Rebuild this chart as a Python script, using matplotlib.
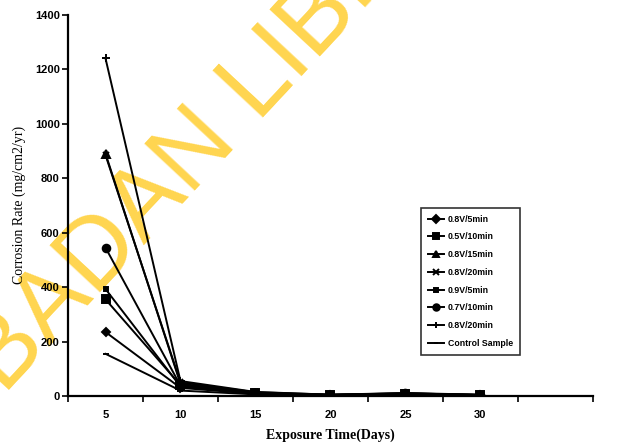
import matplotlib
matplotlib.use("Agg")
import matplotlib.pyplot as plt
import numpy as np

# categorie (giorni) e serie
days = ['5', '10', '15', '20', '25', '30', '']
labels = ['0.8V/5min', '0.5V/10min', '0.8V/15min', '0.8V/20min',
          '0.9V/5min', '0.7V/10min', '0.8V/20min', 'Control Sample']
v_08_5 = [235, 30, 8, 3, 6, 3]
v_05_10 = [355, 40, 10, 4, 8, 4]
v_08_15 = [890, 45, 12, 4, 9, 4]
v_08_20a = [885, 50, 14, 5, 10, 4]
v_09_5 = [393, 35, 9, 4, 7, 3]
v_07_10 = [545, 38, 11, 4, 10, 4]
v_08_20b = [1240, 55, 15, 5, 11, 5]
v_ctrl = [155, 20, 6, 3, 5, 3]

series = [v_08_5, v_05_10, v_08_15, v_08_20a, v_09_5, v_07_10, v_08_20b, v_ctrl]
markers = ['D', 's', '^', 'x', 's', 'o', '+', '_']
msizes = [4.5, 5.5, 5.5, 4.5, 3.5, 5.5, 5.5, 4]

fig = plt.figure(figsize=(6.24, 4.48), dpi=100)
ax = fig.add_axes([0.109, 0.116, 0.841, 0.851])

x = np.arange(len(v_08_5))
for vals, lab, m, ms in zip(series, labels, markers, msizes):
    ax.plot(x, vals, color='black', lw=1.4, marker=m, ms=ms, mew=1.4, label=lab)

ax.set_xlim(-0.5, len(days) - 0.5)
ax.set_ylim(0, 1400)
ax.set_xticks(np.arange(len(days)))
ax.set_xticklabels(days)
ax.set_xticks(np.arange(len(days) + 1) - 0.5, minor=True)
ax.tick_params(axis='x', which='major', length=0, pad=10)
ax.tick_params(axis='x', which='minor', length=4, width=1.2, direction='out')
ax.set_yticks(np.arange(0, 1401, 200))
ax.tick_params(axis='y', length=4, width=1.2, pad=2)
for t in ax.get_xticklabels() + ax.get_yticklabels():
    t.set_fontfamily('Liberation Sans')
    t.set_fontweight('bold')
    t.set_fontsize(8)

ax.spines['top'].set_visible(False)
ax.spines['right'].set_visible(False)
ax.spines['left'].set_linewidth(1.6)
ax.spines['bottom'].set_linewidth(1.6)

ax.set_xlabel('Exposure Time(Days)', fontfamily='Liberation Serif',
              fontweight='bold', fontsize=10, labelpad=6)
ax.set_ylabel('Corrosion Rate (mg/cm2/yr)', fontfamily='Liberation Serif',
              fontsize=10, labelpad=6)

leg = ax.legend(loc='lower left', bbox_to_anchor=(0.667, 0.198), bbox_transform=fig.transFigure,
                frameon=True, fancybox=False, edgecolor='black',
                prop={'family': 'Liberation Sans', 'weight': 'bold', 'size': 6.3},
                handlelength=1.9, handletextpad=0.4, labelspacing=1.0,
                borderpad=0.8, markerscale=0.85)
leg.get_frame().set_linewidth(1.2)

# filigrana (sotto le linee)
ax.text(0.398, 0.786, 'IBADAN LIBRARY', rotation=47, fontsize=72, color='#FFD54F',
        ha='center', va='center', fontfamily='Liberation Sans',
        transform=fig.transFigure, clip_on=False, zorder=0.5)

fig.savefig('out.png', dpi=100)
